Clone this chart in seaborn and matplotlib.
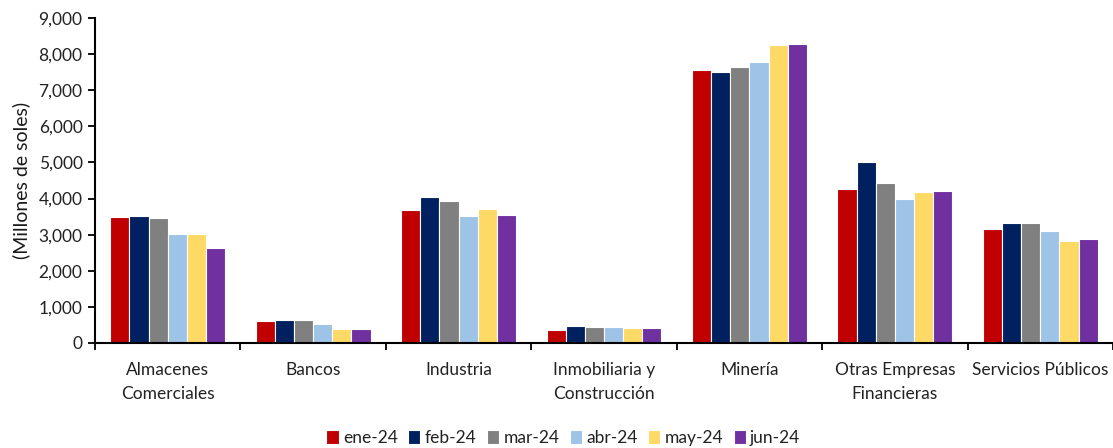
import matplotlib
matplotlib.use("Agg")
import matplotlib.pyplot as plt
from matplotlib.ticker import FuncFormatter, MultipleLocator
import seaborn as sns
import pandas as pd
import numpy as np

categories = ["Almacenes\nComerciales", "Bancos", "Industria", "Inmobiliaria y\nConstrucción",
              "Minería", "Otras Empresas\nFinancieras", "Servicios Públicos"]
months = ["ene-24", "feb-24", "mar-24", "abr-24", "may-24", "jun-24"]

ene_24 = [3480, 618, 3677, 352, 7570, 4255, 3150]
feb_24 = [3509, 645, 4037, 480, 7515, 5020, 3335]
mar_24 = [3453, 645, 3945, 452, 7635, 4440, 3335]
abr_24 = [3010, 535, 3508, 452, 7790, 3995, 3110]
may_24 = [3010, 397, 3702, 425, 8250, 4190, 2835]
jun_24 = [2640, 397, 3545, 425, 8290, 4220, 2880]

colors = ["#C00000", "#002060", "#808080", "#9DC3E6", "#FFD966", "#7030A0"]

series = [ene_24, feb_24, mar_24, abr_24, may_24, jun_24]
df = pd.DataFrame({
    "Sector": np.repeat([categories], len(months), axis=0).ravel(),
    "Mes": np.repeat(months, len(categories)),
    "Valor": np.concatenate(series),
})

sns.set_theme(style="white")
plt.rcParams["font.family"] = ["Lato", "DejaVu Sans"]

fig = plt.figure(figsize=(11.13, 4.48), dpi=100)
ax = fig.add_axes([0.0854, 0.2344, 0.9146, 0.7256])

sns.barplot(data=df, x="Sector", y="Valor", hue="Mes", order=categories,
            hue_order=months, palette=colors, width=0.79, saturation=1,
            edgecolor="white", linewidth=0.8, ax=ax, legend=True)

ax.set_xlim(-0.5, len(categories) - 0.5)
ax.set_ylim(0, 9000)
ax.yaxis.set_major_locator(MultipleLocator(1000))
ax.yaxis.set_major_formatter(FuncFormatter(lambda v, p: f"{int(v):,}"))

for side in ["top", "right"]:
    ax.spines[side].set_visible(False)
for side in ["left", "bottom"]:
    ax.spines[side].set_color("black")
    ax.spines[side].set_linewidth(1.5)

ax.set_xlabel("")
ax.set_ylabel("(Millones de soles)", fontsize=14, color="#1a1a1a", labelpad=6)
ax.tick_params(axis="y", which="major", direction="out", length=5, width=1.3,
               color="black", labelsize=12.5, labelcolor="#222222", left=True, pad=4)
ax.set_xticks(range(len(categories)))
ax.set_xticklabels(categories, fontsize=12.5, color="#222222", linespacing=1.6, va="top")
ax.tick_params(axis="x", which="major", length=0, pad=14)
ax.set_xticks(np.arange(-0.5, len(categories), 1.0), minor=True)
ax.tick_params(axis="x", which="minor", direction="out", length=5, width=1.3,
               color="black", bottom=True)

handles, labels = ax.get_legend_handles_labels()
ax.legend(handles, labels, loc="lower center", bbox_to_anchor=(0.46, -0.365),
          ncol=6, frameon=False, fontsize=12.5, handlelength=0.7, handleheight=0.9,
          handletextpad=0.25, columnspacing=0.6, labelcolor="#222222")

fig.savefig("out.png", dpi=100)
